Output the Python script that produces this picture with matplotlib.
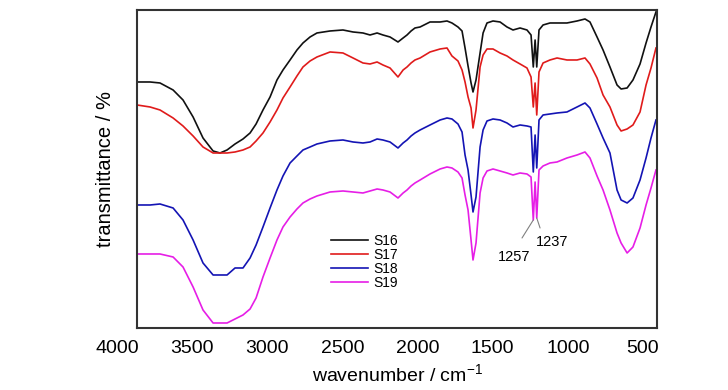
import numpy as np
import matplotlib
matplotlib.use('Agg')
import matplotlib.pyplot as plt
import matplotlib.transforms as mtransforms

plt.rcParams['font.family'] = ['Liberation Sans', 'DejaVu Sans']
plt.rcParams['mathtext.fontset'] = 'custom'
plt.rcParams['mathtext.rm'] = 'Liberation Sans'

# wavenumber grid (cm-1)
wavenumber = [3866, 3779, 3713, 3626, 3560, 3493, 3427, 3360, 3314, 3267,
              3214, 3161, 3114, 3074, 3028, 2981, 2935, 2895, 2848, 2802,
              2762, 2715, 2669, 2582, 2496, 2429, 2363, 2316, 2269, 2230,
              2183, 2130, 2096, 2070, 2043, 2017, 1983, 1917, 1850, 1804,
              1771, 1731, 1704, 1684, 1664, 1644, 1631, 1611, 1584, 1564,
              1538, 1498, 1451, 1405, 1365, 1318, 1272, 1245, 1230, 1218,
              1207, 1192, 1165, 1119, 1072, 1006, 939, 886, 853, 806,
              766, 720, 673, 646, 606, 567, 520, 480, 447, 414]

# transmittance (arbitrary units, curves are offset)
s16 = [246, 246, 245, 238, 228, 211, 190, 177, 175, 178,
       184, 189, 195, 204, 218, 231, 248, 258, 268, 278,
       285, 291, 295, 297, 298, 296, 295, 293, 295, 293,
       291, 286, 290, 293, 297, 300, 301, 306, 306, 307,
       305, 301, 297, 280, 262, 245, 236, 248, 275, 295,
       305, 307, 306, 301, 298, 300, 298, 293, 261, 288,
       261, 298, 303, 305, 305, 305, 307, 309, 306, 291,
       278, 261, 243, 239, 240, 248, 264, 285, 301, 316]
s17 = [223, 221, 218, 210, 202, 192, 181, 175, 175, 175,
       176, 178, 181, 187, 195, 206, 218, 230, 241, 252,
       261, 267, 271, 276, 275, 270, 265, 264, 266, 263,
       260, 251, 258, 261, 265, 268, 270, 276, 279, 280,
       272, 267, 258, 246, 231, 220, 200, 218, 261, 273,
       279, 279, 275, 272, 268, 264, 260, 251, 221, 245,
       213, 256, 265, 268, 270, 268, 268, 270, 264, 250,
       233, 221, 203, 197, 199, 203, 216, 243, 260, 280]
s18 = [123, 123, 124, 120, 108, 88, 65, 53, 53, 53,
       60, 60, 70, 83, 101, 120, 138, 152, 165, 172,
       178, 181, 184, 187, 188, 186, 185, 186, 189, 188,
       186, 180, 185, 188, 192, 195, 198, 203, 208, 210,
       209, 204, 196, 173, 158, 133, 116, 131, 181, 198,
       207, 209, 208, 205, 201, 203, 202, 201, 156, 193,
       160, 208, 213, 214, 215, 216, 221, 225, 220, 204,
       190, 175, 138, 128, 125, 130, 148, 170, 190, 208]
s19 = [74, 74, 74, 71, 61, 41, 18, 5, 5, 5,
       9, 13, 19, 30, 51, 70, 88, 101, 111, 119,
       125, 129, 132, 136, 137, 136, 135, 137, 139, 138,
       136, 130, 135, 138, 142, 145, 148, 154, 159, 161,
       160, 156, 150, 133, 118, 88, 68, 85, 135, 150,
       157, 159, 157, 155, 153, 155, 154, 151, 108, 146,
       110, 158, 162, 165, 166, 170, 173, 176, 170, 152,
       138, 118, 95, 85, 75, 81, 100, 123, 140, 158]

labels = ['S16', 'S17', 'S18', 'S19']
colors = ['#111111', '#e01b1b', '#1414b4', '#e61ee6']
xticks = [3500, 3000, 2500, 2000, 1500, 1000, 500]

fig = plt.figure(figsize=(7.28, 3.9), dpi=100)
ax = fig.add_axes([0.1882, 0.159, 0.7143, 0.8154])

for y, lab, c in zip([s16, s17, s18, s19], labels, colors):
    ax.plot(wavenumber, y, color=c, lw=1.2, label=lab)

ax.set_xlim(3866, 407)
ax.set_ylim(0, 318)
ax.set_xticks(xticks)
ax.set_xticklabels([str(t) for t in xticks])
ax.set_yticks([])
ax.tick_params(axis='x', length=0, pad=9, labelsize=14)
for sp in ax.spines.values():
    sp.set_color('#333333')
    sp.set_linewidth(1.5)

# 4000 label sits outside the plotted range
trans = mtransforms.blended_transform_factory(ax.transData, ax.transAxes)
ax.text(4000, -0.039, '4000', transform=trans, ha='center', va='top',
        fontsize=14, clip_on=False)

ax.set_xlabel('wavenumber / cm$^{-1}$', fontsize=14, labelpad=4)
ax.set_ylabel('transmittance / %', fontsize=14.5, labelpad=16)

# peak labels
ax.annotate('', xy=(1230, 108), xytext=(1305, 90),
            arrowprops=dict(arrowstyle='-', color='gray', lw=0.8, shrinkA=0, shrinkB=0))
ax.annotate('', xy=(1207, 110), xytext=(1185, 100),
            arrowprops=dict(arrowstyle='-', color='gray', lw=0.8, shrinkA=0, shrinkB=0))
ax.text(1358, 71, '1257', ha='center', va='center', fontsize=10.5)
ax.text(1105, 86, '1237', ha='center', va='center', fontsize=10.5)

ax.legend(loc='upper left', bbox_to_anchor=(0.373, 0.296), frameon=False,
          fontsize=10, handlelength=2.66, handletextpad=0.36, labelspacing=0,
          borderpad=0, borderaxespad=0)

fig.savefig('out.png', dpi=100)
